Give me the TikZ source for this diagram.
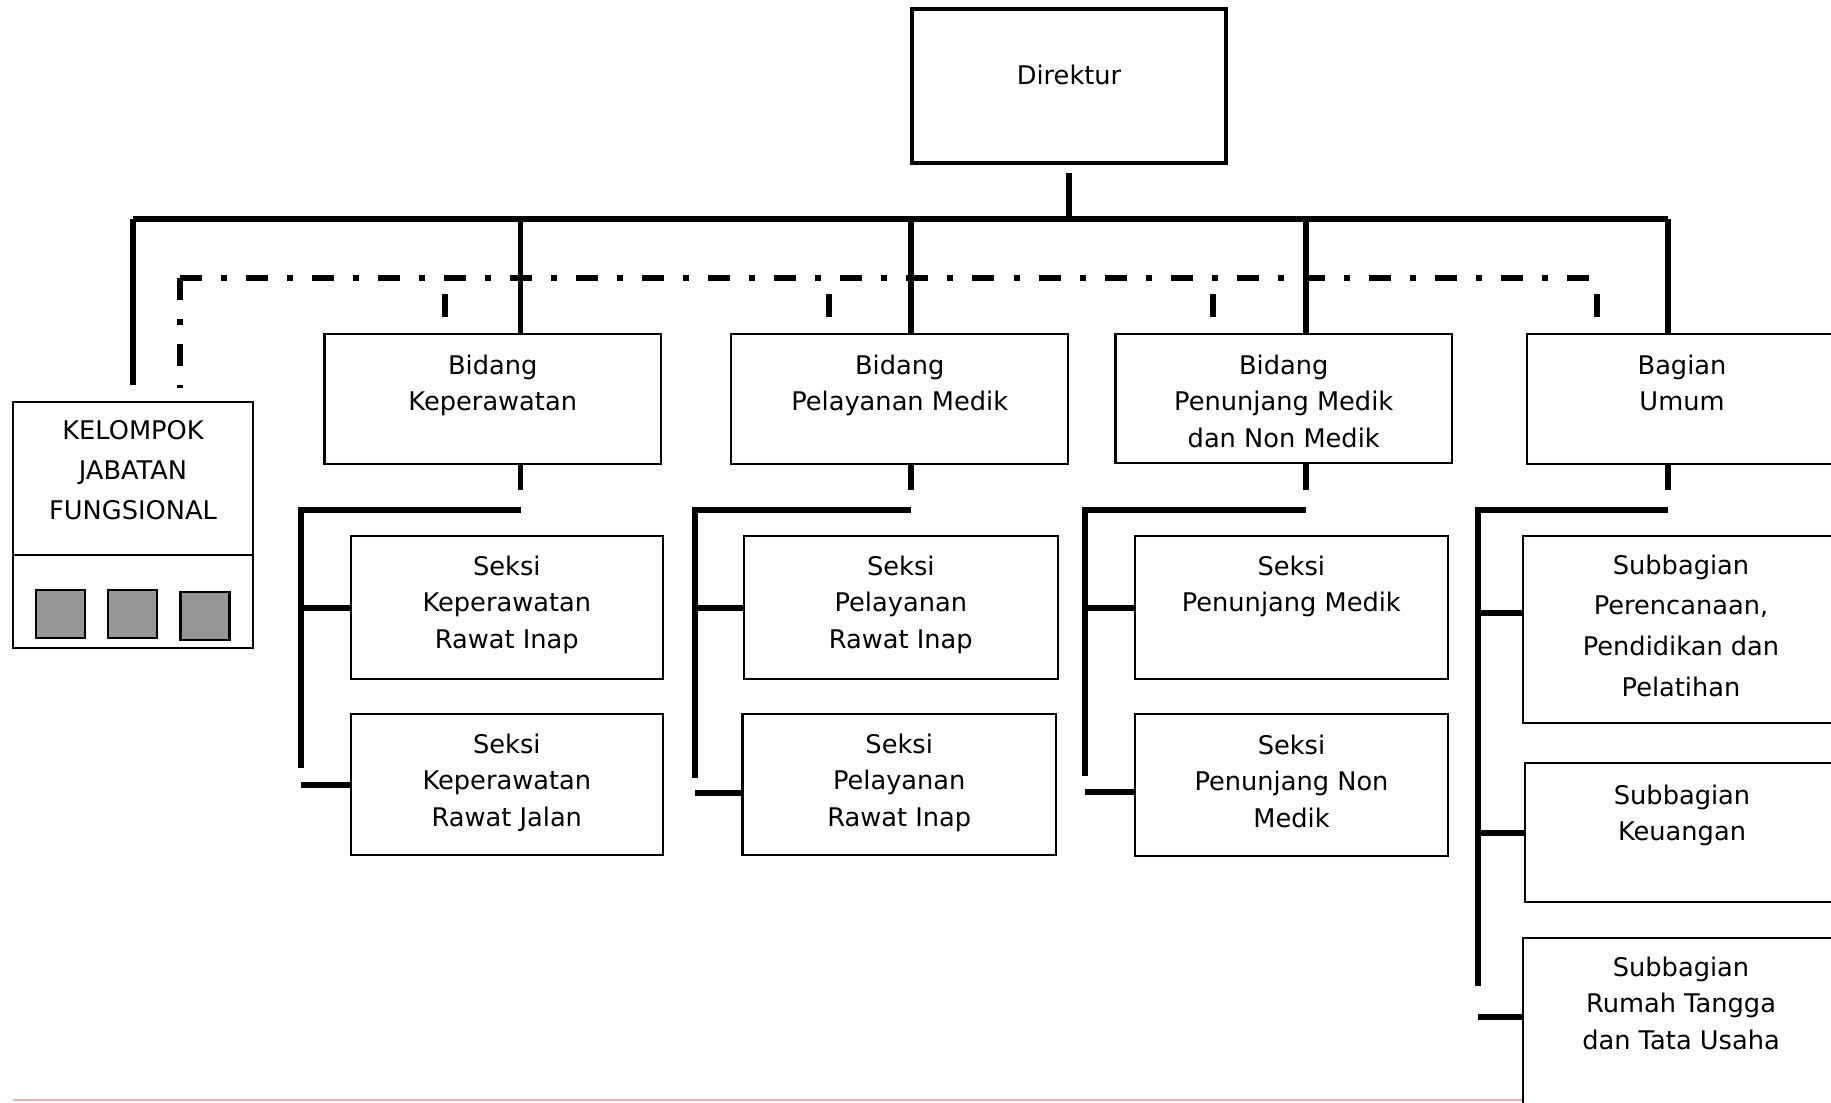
\documentclass[tikz,border=0pt]{standalone}
\usepackage{fontspec}
\setmainfont{DejaVu Sans}
\usetikzlibrary{positioning}
\definecolor{boxgray}{RGB}{150,150,150}
\definecolor{pagepink}{RGB}{222,176,176}
\tikzset{
  unit/.style={draw, line width=0.65pt, fill=white, inner sep=0pt},
  member/.style={draw, line width=0.8pt, fill=boxgray, minimum width=0.49cm, minimum height=0.48cm, inner sep=0pt},
  txt/.style={align=center, inner sep=0pt, font=\fontsize{7.3}{10.4}\selectfont},
  txtwide/.style={txt, font=\fontsize{7.3}{11.3}\selectfont},
  link/.style={line width=1.7pt},
  staffline/.style={line width=1.6pt, dash pattern=on 0.22cm off 0.19cm on 0.06cm off 0.19cm},
  stafftick/.style={line width=1.5pt}
}
\begin{document}
\begin{tikzpicture}[x=0.01cm, y=-0.01cm]
  \useasboundingbox (0,0) rectangle (1831,1102);
  \clip (0,0) rectangle (1831,1102);
  \draw[pagepink, line width=0.75pt] (13,1100) -- (1831,1100);

  % top
  \node[unit, line width=0.95pt, minimum width=3.14cm, minimum height=1.54cm] (dir) at (1069,86) {};
  \node[txt, below=0.57cm of dir.north] (tdir) {Direktur};

  % kelompok jabatan fungsional
  \node[unit, minimum width=2.40cm, minimum height=2.46cm] (kel) at (133,525) {};
  \node[txtwide, below=0.19cm of kel.north] (tkel) {KELOMPOK\\JABATAN\\FUNGSIONAL};
  \draw[line width=0.65pt] ([yshift=-0.30cm]kel.west) -- ([yshift=-0.30cm]kel.east);
  \foreach \i/\x/\y in {1/60.5/614, 2/132.5/614, 3/205/616}
    \node[member] (m\i) at (\x,\y) {};

  % bidang / bagian
  \node[unit, minimum width=3.365cm, minimum height=1.30cm] (bk) at (492.75,399) {};
  \node[txt, below=0.21cm of bk.north] (tbk) {Bidang\\Keperawatan};
  \node[unit, minimum width=3.37cm, minimum height=1.30cm] (pm) at (899.7,399) {};
  \node[txt, below=0.21cm of pm.north] (tpm) {Bidang\\Pelayanan Medik};
  \node[unit, minimum width=3.36cm, minimum height=1.29cm] (bp) at (1283.7,398.5) {};
  \node[txt, below=0.21cm of bp.north] (tbp) {Bidang\\Penunjang Medik\\dan Non Medik};
  \node[unit, minimum width=3.10cm, minimum height=1.30cm] (bu) at (1682,399) {};
  \node[txt, below=0.21cm of bu.north] (tbu) {Bagian\\Umum};

  % seksi
  \node[unit, minimum width=3.12cm, minimum height=1.43cm] (sk1) at (506.8,607.5) {};
  \node[txt, below=0.20cm of sk1.north] (tsk1) {Seksi\\Keperawatan\\Rawat Inap};
  \node[unit, minimum width=3.12cm, minimum height=1.41cm] (sk2) at (506.8,784.5) {};
  \node[txt, below=0.20cm of sk2.north] (tsk2) {Seksi\\Keperawatan\\Rawat Jalan};
  \node[unit, minimum width=3.14cm, minimum height=1.43cm] (sp1) at (900.8,607.5) {};
  \node[txt, below=0.20cm of sp1.north] (tsp1) {Seksi\\Pelayanan\\Rawat Inap};
  \node[unit, minimum width=3.13cm, minimum height=1.41cm] (sp2) at (899.2,784.5) {};
  \node[txt, below=0.20cm of sp2.north] (tsp2) {Seksi\\Pelayanan\\Rawat Inap};
  \node[unit, minimum width=3.13cm, minimum height=1.43cm] (sn1) at (1291.3,607.5) {};
  \node[txt, below=0.20cm of sn1.north] (tsn1) {Seksi\\Penunjang Medik};
  \node[unit, minimum width=3.13cm, minimum height=1.42cm] (sn2) at (1291.5,785) {};
  \node[txt, below=0.21cm of sn2.north] (tsn2) {Seksi\\Penunjang Non\\Medik};

  % subbagian
  \node[unit, minimum width=3.16cm, minimum height=1.87cm] (ss1) at (1681,629.5) {};
  \node[txtwide, font=\fontsize{7.3}{11.6}\selectfont, below=0.19cm of ss1.north] (tss1) {Subbagian\\Perencanaan,\\Pendidikan dan\\Pelatihan};
  \node[unit, minimum width=3.14cm, minimum height=1.39cm] (ss2) at (1682,832.5) {};
  \node[txt, below=0.22cm of ss2.north] (tss2) {Subbagian\\Keuangan};
  \node[unit, minimum width=3.16cm, minimum height=1.90cm] (ss3) at (1681,1033) {};
  \node[txt, below=0.19cm of ss3.north] (tss3) {Subbagian\\Rumah Tangga\\dan Tata Usaha};

  % main bus
  \coordinate (busL) at (133,219);
  \coordinate (jk) at (520.5,219);
  \coordinate (jp) at (911,219);
  \coordinate (jn) at (1305.7,219);
  \coordinate (ju) at (1667.7,219);
  \draw[link] (busL) -- (ju);
  \draw[link] ([yshift=-0.08cm]dir.south) -- (dir.south |- busL);
  \draw[link] (busL) -- ([yshift=0.16cm]kel.north);
  \draw[link] (jk) -- (jk |- bk.north);
  \draw[link] (jp) -- (jp |- pm.north);
  \draw[link] (jn) -- (jn |- bp.north);
  \draw[link] (ju) -- (ju |- bu.north);

  % staff line
  \coordinate (sc) at (180,278);
  \coordinate (sb) at (180,388);
  \coordinate (se) at (1592,278);
  \draw[staffline] (sc) -- (sb);
  \draw[staffline] (sc) -- (se);
  \foreach \x in {445,829,1213,1597}
    \draw[stafftick] (\x,294) -- (\x,317);

  % keperawatan
  \coordinate (hk) at (520.5,510);
  \coordinate (vk) at (301,510);
  \coordinate (ek) at (301,768);
  \draw[link] (jk |- bk.south) -- ([yshift=0.2cm]hk);
  \draw[link] (hk) -- (vk) -- (ek);
  \draw[link] (vk |- sk1.west) -- (sk1.west);
  \draw[link] (vk |- sk2.west) -- (sk2.west);

  % pelayanan medik
  \coordinate (hp) at (911,510);
  \coordinate (vp) at (695,510);
  \coordinate (ep) at (695,778);
  \coordinate (bp2) at ([yshift=-0.085cm]sp2.west);
  \draw[link] (jp |- pm.south) -- ([yshift=0.2cm]hp);
  \draw[link] (hp) -- (vp) -- (ep);
  \draw[link] (vp |- sp1.west) -- (sp1.west);
  \draw[link] (vp |- bp2) -- (bp2);

  % penunjang
  \coordinate (hn) at (1305.7,510);
  \coordinate (vn) at (1085,510);
  \coordinate (en) at (1085,776);
  \coordinate (bn2) at ([yshift=-0.067cm]sn2.west);
  \draw[link] (jn |- bp.south) -- ([yshift=0.2cm]hn);
  \draw[link] (hn) -- (vn) -- (en);
  \draw[link] (vn |- sn1.west) -- (sn1.west);
  \draw[link] (vn |- bn2) -- (bn2);

  % umum
  \coordinate (hu) at (1667.7,510);
  \coordinate (vu) at (1478,510);
  \coordinate (eu) at (1478,986);
  \coordinate (bu1) at ([yshift=0.17cm]ss1.west);
  \coordinate (bu3) at ([yshift=0.16cm]ss3.west);
  \draw[link] (ju |- bu.south) -- ([yshift=0.2cm]hu);
  \draw[link] (hu) -- (vu) -- (eu);
  \draw[link] (vu |- bu1) -- (bu1);
  \draw[link] (vu |- ss2.west) -- (ss2.west);
  \draw[link] (vu |- bu3) -- (bu3);
\end{tikzpicture}
\end{document}
